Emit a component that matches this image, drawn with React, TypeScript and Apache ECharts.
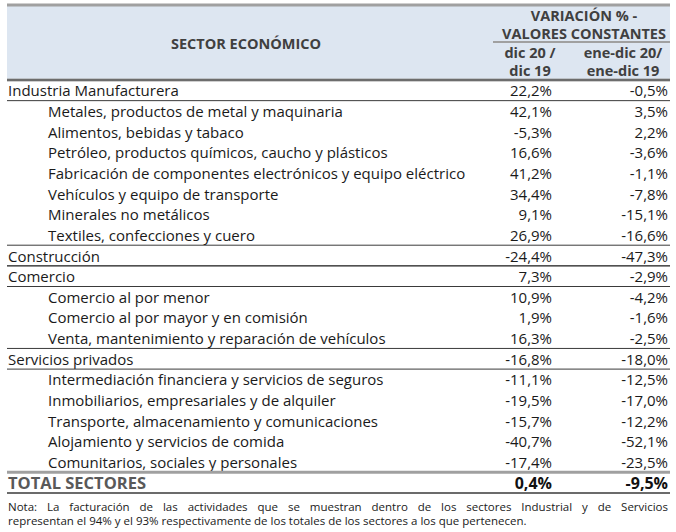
import React, { useEffect, useRef } from "react";
import * as echarts from "echarts";

const sectors = [
  "Industria Manufacturera",
  "Metales, productos de metal y maquinaria",
  "Alimentos, bebidas y tabaco",
  "Petróleo, productos químicos, caucho y plásticos",
  "Fabricación de componentes electrónicos y equipo eléctrico",
  "Vehículos y equipo de transporte",
  "Minerales no metálicos",
  "Textiles, confecciones y cuero",
  "Construcción",
  "Comercio",
  "Comercio al por menor",
  "Comercio al por mayor y en comisión",
  "Venta, mantenimiento y reparación de vehículos",
  "Servicios privados",
  "Intermediación financiera y servicios de seguros",
  "Inmobiliarios, empresariales y de alquiler",
  "Transporte, almacenamiento y comunicaciones",
  "Alojamiento y servicios de comida",
  "Comunitarios, sociales y personales",
  "TOTAL SECTORES",
];
const rowKinds = [
  "section", "sub", "sub", "sub", "sub", "sub", "sub", "sub",
  "section",
  "section", "sub", "sub", "sub",
  "section", "sub", "sub", "sub", "sub", "sub",
  "total",
];
const dic20vsDic19 = [22.2, 42.1, -5.3, 16.6, 41.2, 34.4, 9.1, 26.9, -24.4, 7.3, 10.9, 1.9, 16.3, -16.8, -11.1, -19.5, -15.7, -40.7, -17.4, 0.4];
const eneDic20vs19 = [-0.5, 3.5, 2.2, -3.6, -1.1, -7.8, -15.1, -16.6, -47.3, -2.9, -4.2, -1.6, -2.5, -18.0, -12.5, -17.0, -12.2, -52.1, -23.5, -9.5];

const headerTitle = "SECTOR ECONÓMICO";
const headerGroup = ["VARIACIÓN % -", "VALORES CONSTANTES"];
const headerCol1 = ["dic 20 /", "dic 19"];
const headerCol2 = ["ene-dic 20/", "ene-dic 19"];
const noteLine1 = "Nota: La facturación de las actividades que se muestran dentro de los sectores Industrial y de Servicios";
const noteLine2 = "representan el 94% y el 93% respectivamente de los totales de los sectores a los que pertenecen.";

const FONT = "'Open Sans', 'Noto Sans', sans-serif";
const fmt = (v: number) => v.toFixed(1).replace(".", ",") + "%";

function justifiedWords(text: string, x0: number, x1: number, fontSize: number) {
  const canvas = document.createElement("canvas");
  const ctx = canvas.getContext("2d")!;
  ctx.font = `${fontSize}px 'Open Sans'`;
  const words = text.split(" ");
  const widths = words.map((w) => ctx.measureText(w).width);
  const total = widths.reduce((a, b) => a + b, 0);
  const gap = (x1 - x0 - total) / (words.length - 1);
  let x = x0;
  return words.map((w, i) => {
    const el = { word: w, x };
    x += widths[i] + gap;
    return el;
  });
}

export default function App() {
  const ref = useRef<HTMLDivElement>(null);
  useEffect(() => {
    if (!ref.current) return;
    const chart = echarts.init(ref.current, null, { renderer: "svg" });
    const L = 7;
    const R = 670;
    const headerColor = "#404040";
    const lineDark = "#3a3a3a";
    const lineGray = "#a0a0a0";
    const hf = 14.5;

    const noteFont = 11.5;
    const words = justifiedWords(noteLine1, 8, 668, noteFont);

    const hText = (t: string, x: number, y: number) => ({
      type: "text", x, y,
      style: { text: t, fontFamily: FONT, fontSize: hf, fontWeight: "bold", fill: headerColor, align: "center", verticalAlign: "middle" },
    });

    const graphic: any[] = [
      { type: "rect", shape: { x: L, y: 5, width: R - L, height: 75 }, style: { fill: "#dde6f1" }, silent: true },
      { type: "line", shape: { x1: L, y1: 5, x2: R, y2: 5 }, style: { stroke: lineGray, lineWidth: 3 } },
      { type: "line", shape: { x1: L, y1: 80, x2: R, y2: 80 }, style: { stroke: lineGray, lineWidth: 3 } },
      { type: "line", shape: { x1: 493, y1: 42, x2: R, y2: 42 }, style: { stroke: lineGray, lineWidth: 2 } },
      hText(headerTitle, 246, 43),
      ...headerGroup.map((t, i) => hText(t, 584, 15 + i * 18)),
      ...headerCol1.map((t, i) => hText(t, 530, 52 + i * 18)),
      ...headerCol2.map((t, i) => hText(t, 623, 52 + i * 18)),
      ...words.map((w) => ({ type: "text", x: w.x, y: 506, style: { text: w.word, fontFamily: FONT, fontSize: noteFont, fill: "#1a1a1a", align: "left", verticalAlign: "middle" } })),
      { type: "text", x: 8, y: 520, style: { text: noteLine2, fontFamily: FONT, fontSize: noteFont, fill: "#1a1a1a", align: "left", verticalAlign: "middle" } },
    ];

    const option: any = {
      animation: false,
      grid: { left: L, right: 676 - R, top: 80, bottom: 39 },
      xAxis: { type: "value", min: 0, max: 1, show: false },
      yAxis: { type: "category", data: sectors, inverse: true, show: false },
      graphic,
      series: [
        {
          type: "custom",
          clip: false,
          data: sectors.map((_, i) => [0, i]),
          encode: { x: 0, y: 1 },
          renderItem: (params: any, api: any) => {
            const i = api.value(1);
            const kind = rowKinds[i];
            const cs = params.coordSys;
            const pt = api.coord([0, i]);
            const h = api.size([0, 1])[1];
            const y = pt[1];
            const left = cs.x;
            const right = cs.x + cs.width;
            const isTotal = kind === "total";
            const children: any[] = [];
            const baseStyle = { fontFamily: FONT, fontSize: isTotal ? 16 : 15, verticalAlign: "middle" };
            children.push({
              type: "text",
              x: kind === "sub" ? left + 41 : left + 1,
              y,
              style: { ...baseStyle, fontSize: isTotal ? 16.5 : 15, text: sectors[i], fill: isTotal ? "#595959" : "#1a1a1a", fontWeight: isTotal ? "bold" : "normal", align: "left" },
            });
            children.push({
              type: "text", x: 552, y,
              style: { ...baseStyle, text: fmt(dic20vsDic19[i]), fill: isTotal ? "#111" : "#1a1a1a", fontWeight: isTotal ? "bold" : "normal", align: "right" },
            });
            children.push({
              type: "text", x: 668, y,
              style: { ...baseStyle, text: fmt(eneDic20vs19[i]), fill: isTotal ? "#111" : "#1a1a1a", fontWeight: isTotal ? "bold" : "normal", align: "right" },
            });
            if (kind === "section") {
              children.push({ type: "line", shape: { x1: left, y1: y - h / 2, x2: right, y2: y - h / 2 }, style: { stroke: lineDark, lineWidth: 1 } });
              children.push({ type: "line", shape: { x1: left, y1: y + h / 2, x2: right, y2: y + h / 2 }, style: { stroke: lineDark, lineWidth: 1 } });
            }
            if (isTotal) {
              children.push({ type: "line", shape: { x1: left, y1: y - h / 2, x2: right, y2: y - h / 2 }, style: { stroke: lineGray, lineWidth: 3 } });
              children.push({ type: "line", shape: { x1: left, y1: y + h / 2, x2: right, y2: y + h / 2 }, style: { stroke: lineDark, lineWidth: 1.5 } });
            }
            return { type: "group", children };
          },
        },
      ],
    };
    chart.setOption(option);
    return () => chart.dispose();
  }, []);
  return <div ref={ref} style={{ width: 676, height: 532, position: "absolute", left: 0, top: 0 }} />;
}
